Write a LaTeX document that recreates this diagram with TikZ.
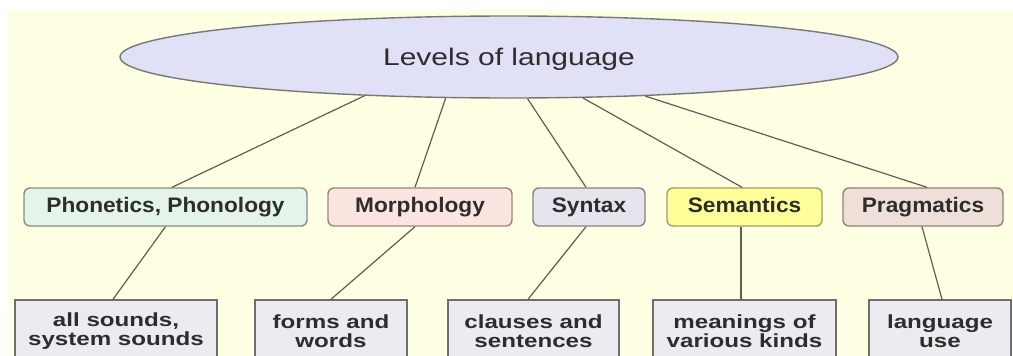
\documentclass[tikz,border=0pt]{standalone}
\usepackage{fontspec}
\usetikzlibrary{shapes.geometric}
\newfontfamily\ellfont[FakeStretch=1.25]{Liberation Sans}
\newfontfamily\midfont[FakeStretch=1.08]{Liberation Sans}
\newfontfamily\botfont[FakeStretch=1.27]{Liberation Sans}
\definecolor{bgyel}{RGB}{255,255,228}
\definecolor{ellfill}{RGB}{224,224,246}
\definecolor{ellline}{RGB}{120,120,120}
\definecolor{txt}{RGB}{45,45,45}
\definecolor{conn}{RGB}{95,95,80}
\definecolor{phfill}{RGB}{229,244,233}
\definecolor{phline}{RGB}{130,145,130}
\definecolor{mofill}{RGB}{252,228,224}
\definecolor{moline}{RGB}{160,130,125}
\definecolor{syfill}{RGB}{230,228,236}
\definecolor{syline}{RGB}{130,130,135}
\definecolor{sefill}{RGB}{255,255,153}
\definecolor{seline}{RGB}{160,160,100}
\definecolor{prfill}{RGB}{238,224,216}
\definecolor{prline}{RGB}{145,130,120}
\definecolor{botfill}{RGB}{236,236,240}
\definecolor{botline}{RGB}{110,110,110}
\tikzset{
  ellnode/.style={ellipse, draw=ellline, fill=ellfill, line width=1.4pt,
    minimum width=778pt, minimum height=82pt, inner sep=0pt, text depth=0pt,
    text=txt, font=\ellfont\fontsize{24}{28}\selectfont},
  midbox/.style={rectangle, rounded corners=6pt, line width=1.4pt,
    minimum height=38pt, inner sep=0pt, text height=15pt, text depth=4.5pt, text=txt,
    font=\midfont\bfseries\fontsize{21}{24}\selectfont},
  botbox/.style={rectangle, draw=botline, fill=botfill, line width=1.4pt,
    minimum height=63pt, inner sep=0pt, align=center, text=txt,
    font=\botfont\bfseries\fontsize{19}{19}\selectfont},
  link/.style={draw=conn, line width=1.2pt}
}
\begin{document}
\begin{tikzpicture}[x=1pt,y=-1pt]
\clip (0,0) rectangle (1013,356);
\fill[white] (0,0) rectangle (1013,356);
\fill[bgyel] (8,10) rectangle (1013,356);

\node[ellnode] (ell) at (509,57) {Levels of language};

\node[midbox, draw=phline, fill=phfill, minimum width=283pt] (ph) at (165.5,207) {Phonetics, Phonology};
\node[midbox, draw=moline, fill=mofill, minimum width=184pt] (mo) at (420,207) {Morphology};
\node[midbox, draw=syline, fill=syfill, minimum width=112pt] (sy) at (589,207) {Syntax};
\node[midbox, draw=seline, fill=sefill, minimum width=155pt] (se) at (744.5,207) {Semantics};
\node[midbox, draw=prline, fill=prfill, minimum width=160pt] (pr) at (923,207) {Pragmatics};

\node[botbox, minimum width=202pt] (b1) at (116,331.5) {all sounds,\\system sounds};
\node[botbox, minimum width=152pt] (b2) at (331,331.5) {forms and\\words};
\node[botbox, minimum width=171pt] (b3) at (533.5,331.5) {clauses and\\sentences};
\node[botbox, minimum width=183pt] (b4) at (744.5,331.5) {meanings of\\various kinds};
\node[botbox, minimum width=142pt] (b5) at (940,331.5) {language\\use};

\draw[link] (ell.195) -- ([xshift=6.5pt]ph.north);
\draw[link] (ell.213.5) -- ([xshift=-5pt]mo.north);
\draw[link] (ell.294.9) -- ([xshift=-3pt]sy.north);
\draw[link] (ell.331) -- ([xshift=-2.5pt]se.north);
\draw[link] (ell.344.1) -- ([xshift=4pt]pr.north);

\draw[link] (ph.south) -- ([xshift=-3pt]b1.north);
\draw[link] ([xshift=-5pt]mo.south) -- (b2.north);
\draw[link] ([xshift=-3pt]sy.south) -- ([xshift=-5.5pt]b3.north);
\draw[link] ([xshift=-3.5pt]se.south) -- ([xshift=-3.5pt]b4.north);
\draw[link] ([xshift=-1pt]pr.south) -- ([xshift=2pt]b5.north);
\end{tikzpicture}
\end{document}
